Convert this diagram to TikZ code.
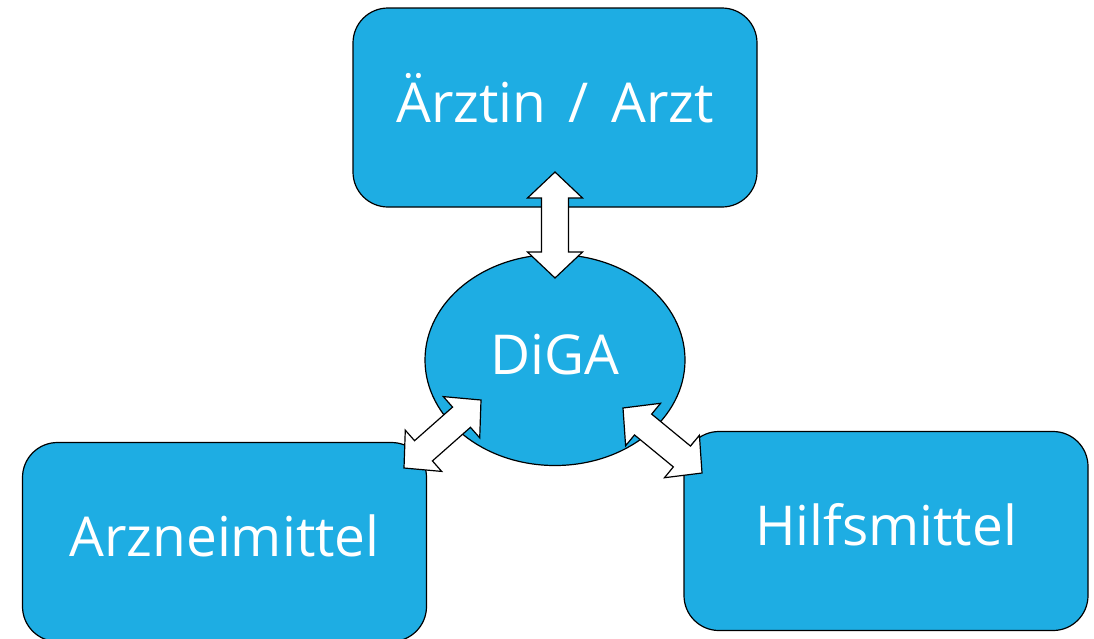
\documentclass[tikz,border=0pt]{standalone}
\usepackage{fontspec}
\setmainfont{Open Sans}
\usepackage{tikz}
\usetikzlibrary{shapes,calc}
\definecolor{digablue}{HTML}{1EADE3}

% head length, half head width, half shaft width
\newcommand\hl{26pt}
\newcommand\hw{27.5pt}
\newcommand\hs{13.5pt}
\newcommand\fatarrow[2]{%
\draw[fat arrow] (#1)
	-- ($(#1)!\hl!(#2)!\hw!90:(#2)$) -- ($(#1)!\hl!(#2)!\hs!90:(#2)$)
	-- ($(#2)!\hl!(#1)!\hs!-90:(#1)$) -- ($(#2)!\hl!(#1)!\hw!-90:(#1)$)
	-- (#2)
	-- ($(#2)!\hl!(#1)!\hw!90:(#1)$) -- ($(#2)!\hl!(#1)!\hs!90:(#1)$)
	-- ($(#1)!\hl!(#2)!\hs!-90:(#2)$) -- ($(#1)!\hl!(#2)!\hw!-90:(#2)$)
	-- cycle;}

\begin{document}
\begin{tikzpicture}[x=1pt,y=-1pt]
\tikzset{
	big text/.style = {text = white, font = \fontsize{55}{66}\selectfont,
		text height = 40pt, text depth = 11pt},
	role box/.style = {rectangle, rounded corners = 35pt, draw, line width = 1.2pt, fill = digablue,
		big text, minimum width = 404pt, minimum height = 199pt},
	app node/.style = {ellipse, draw, line width = 1.2pt, fill = digablue, big text,
		minimum width = 260pt, minimum height = 211pt, inner sep = 0},
	fat arrow/.style = {draw, fill = white, line width = 1.2pt, line join = miter}
}
\useasboundingbox (0,0) rectangle (1094,638);
\clip (0,0) rectangle (1094,638);

\node(arzt)[role box] at (555,107.5){Ärztin\hspace{8pt} / \hspace{8pt}Arzt};
\node(arznei)[role box] at (224.5,542){Arzneimittel};
\node(hilfs)[role box] at (886,531){Hilfsmittel};
\node(diga)[app node] at (555,360){DiGA};

\coordinate (t1) at (555,172);
\coordinate (t2) at (555,278);
\coordinate (l1) at (481,400);
\coordinate (l2) at (404,468);
\coordinate (r1) at (623,408);
\coordinate (r2) at (702,473);

\fatarrow{t1}{t2}
\fatarrow{l1}{l2}
\fatarrow{r1}{r2}
\end{tikzpicture}
\end{document}
